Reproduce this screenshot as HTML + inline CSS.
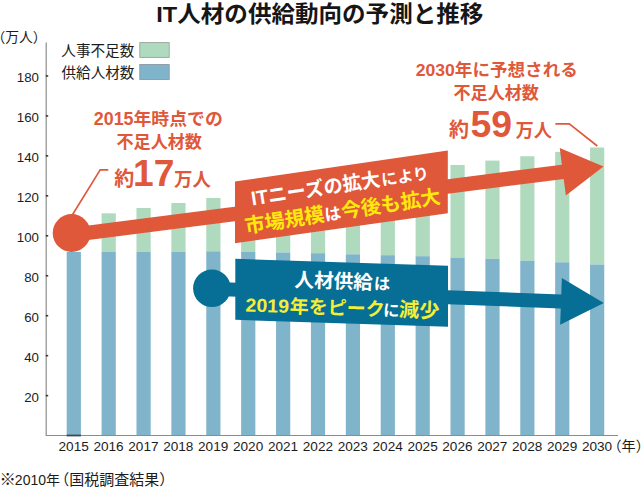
<!DOCTYPE html>
<html lang="ja"><head><meta charset="utf-8"><title>IT人材の供給動向の予測と推移</title>
<style>html,body{margin:0;padding:0;background:#fff;font-family:"Liberation Sans",sans-serif}svg{display:block}.sr{position:absolute;left:0;top:0;width:1px;height:1px;margin:-1px;overflow:hidden;clip-path:inset(50%);white-space:nowrap;color:transparent;font-size:1px}svg text{font-family:"Liberation Sans","Noto Sans CJK JP",sans-serif}</style>
</head><body>
<svg width="641" height="488" viewBox="0 0 641 488" role="img" aria-label="IT人材の供給動向の予測と推移">
<rect width="641" height="488" fill="#fff"/>
<rect x="66.70" y="252.00" width="14.2" height="183.50" fill="#80b4cb"/>
<rect x="101.59" y="213.30" width="14.2" height="38.70" fill="#afdabd"/>
<rect x="101.59" y="252.00" width="14.2" height="183.50" fill="#80b4cb"/>
<rect x="136.48" y="208.00" width="14.2" height="44.00" fill="#afdabd"/>
<rect x="136.48" y="252.00" width="14.2" height="183.50" fill="#80b4cb"/>
<rect x="171.37" y="203.00" width="14.2" height="48.80" fill="#afdabd"/>
<rect x="171.37" y="251.80" width="14.2" height="183.70" fill="#80b4cb"/>
<rect x="206.26" y="198.00" width="14.2" height="53.30" fill="#afdabd"/>
<rect x="206.26" y="251.30" width="14.2" height="184.20" fill="#80b4cb"/>
<rect x="241.15" y="193.29" width="14.2" height="58.61" fill="#afdabd"/>
<rect x="241.15" y="251.90" width="14.2" height="183.60" fill="#80b4cb"/>
<rect x="276.04" y="188.57" width="14.2" height="63.93" fill="#afdabd"/>
<rect x="276.04" y="252.50" width="14.2" height="183.00" fill="#80b4cb"/>
<rect x="310.93" y="183.86" width="14.2" height="69.34" fill="#afdabd"/>
<rect x="310.93" y="253.20" width="14.2" height="182.30" fill="#80b4cb"/>
<rect x="345.82" y="179.14" width="14.2" height="75.16" fill="#afdabd"/>
<rect x="345.82" y="254.30" width="14.2" height="181.20" fill="#80b4cb"/>
<rect x="380.71" y="174.43" width="14.2" height="80.77" fill="#afdabd"/>
<rect x="380.71" y="255.20" width="14.2" height="180.30" fill="#80b4cb"/>
<rect x="415.60" y="169.71" width="14.2" height="86.49" fill="#afdabd"/>
<rect x="415.60" y="256.20" width="14.2" height="179.30" fill="#80b4cb"/>
<rect x="450.49" y="165.00" width="14.2" height="92.60" fill="#afdabd"/>
<rect x="450.49" y="257.60" width="14.2" height="177.90" fill="#80b4cb"/>
<rect x="485.38" y="160.60" width="14.2" height="98.20" fill="#afdabd"/>
<rect x="485.38" y="258.80" width="14.2" height="176.70" fill="#80b4cb"/>
<rect x="520.27" y="156.25" width="14.2" height="104.45" fill="#afdabd"/>
<rect x="520.27" y="260.70" width="14.2" height="174.80" fill="#80b4cb"/>
<rect x="555.16" y="151.90" width="14.2" height="110.40" fill="#afdabd"/>
<rect x="555.16" y="262.30" width="14.2" height="173.20" fill="#80b4cb"/>
<rect x="590.05" y="147.50" width="14.2" height="117.00" fill="#afdabd"/>
<rect x="590.05" y="264.50" width="14.2" height="171.00" fill="#80b4cb"/>
<path d="M46.2 42.6V435.5H618" fill="none" stroke="#8c8c8c" stroke-width="1.2"/>
<rect x="45.800000000000004" y="394.84" width="2.4" height="1.6" fill="#3a3a3a"/>
<rect x="45.800000000000004" y="354.88" width="2.4" height="1.6" fill="#3a3a3a"/>
<rect x="45.800000000000004" y="314.92" width="2.4" height="1.6" fill="#3a3a3a"/>
<rect x="45.800000000000004" y="274.96" width="2.4" height="1.6" fill="#3a3a3a"/>
<rect x="45.800000000000004" y="235.00" width="2.4" height="1.6" fill="#3a3a3a"/>
<rect x="45.800000000000004" y="195.04" width="2.4" height="1.6" fill="#3a3a3a"/>
<rect x="45.800000000000004" y="155.08" width="2.4" height="1.6" fill="#3a3a3a"/>
<rect x="45.800000000000004" y="115.12" width="2.4" height="1.6" fill="#3a3a3a"/>
<rect x="45.800000000000004" y="75.16" width="2.4" height="1.6" fill="#3a3a3a"/>
<rect x="66.7" y="434.6" width="14.2" height="1.8" fill="#3a4a52"/>
<g font-size="13.3" fill="#1c1c1c" text-anchor="end">
<text x="39" y="401.74">20</text>
<text x="39" y="361.78">40</text>
<text x="39" y="321.82">60</text>
<text x="39" y="281.86">80</text>
<text x="39" y="241.90">100</text>
<text x="39" y="201.94">120</text>
<text x="39" y="161.98">140</text>
<text x="39" y="122.02">160</text>
<text x="39" y="82.06">180</text>
</g>
<g font-size="13.6" fill="#1c1c1c" text-anchor="middle">
<text x="73.7" y="450.8">2015</text>
<text x="108.5" y="450.8">2016</text>
<text x="143.4" y="450.8">2017</text>
<text x="178.3" y="450.8">2018</text>
<text x="213.2" y="450.8">2019</text>
<text x="248.1" y="450.8">2020</text>
<text x="283.0" y="450.8">2021</text>
<text x="317.9" y="450.8">2022</text>
<text x="352.8" y="450.8">2023</text>
<text x="387.7" y="450.8">2024</text>
<text x="422.6" y="450.8">2025</text>
<text x="457.4" y="450.8">2026</text>
<text x="492.3" y="450.8">2027</text>
<text x="527.2" y="450.8">2028</text>
<text x="562.1" y="450.8">2029</text>
<text x="597.0" y="450.8">2030</text>
</g>
<text x="607.5" y="451" font-size="14.1" fill="#1c1c1c">（年）</text>
<text x="-8.55" y="41.8" font-size="13.8" fill="#1c1c1c">（万人）</text>
<text x="-0.6" y="485.3" font-size="16.4" fill="#1c1c1c">※</text>
<text x="14.87" y="484.7" font-size="14" fill="#1c1c1c">2010年</text>
<text x="54.17" y="484.9" font-size="15" fill="#1c1c1c">（国税調査結果）</text>
<text x="156.33" y="21.8" font-size="22.8" font-weight="bold" fill="#161616" textLength="327" lengthAdjust="spacingAndGlyphs">IT人材の供給動向の予測と推移</text>
<text x="61.29" y="55.9" font-size="14.6" fill="#1c1c1c">人事不足数</text>
<text x="61.44" y="77.8" font-size="14.6" fill="#1c1c1c">供給人材数</text>
<rect x="139.8" y="42.6" width="29.4" height="14.8" fill="#afdabd" stroke="#98a59e" stroke-width="0.9"/>
<rect x="139.8" y="64.5" width="29.4" height="15" fill="#80b4cb" stroke="#8c99a2" stroke-width="0.9"/>
<path fill="#df583a" d="M71.08 227.85L561.88 164.68L559.75 148.11L603.50 166.57L565.85 195.52L563.72 178.94L72.92 242.11Z"/>
<circle cx="71.6" cy="233" r="18.9" fill="#df583a"/>
<path fill="#df583a" d="M235 181.6L447.8 150.4V213.2L235 243.2Z"/>
<path d="M72.3 215L100.2 169.9H108.3" fill="none" stroke="#df583a" stroke-width="1.6"/>
<path d="M555.4 123.9H569.3L597.3 146" fill="none" stroke="#df583a" stroke-width="1.6"/>
<path fill="#076f95" d="M212.25 281.81L561.25 294.44L561.85 278.05L603.80 302.99L560.15 324.82L560.75 308.43L211.75 295.80Z"/>
<circle cx="211.9" cy="288.3" r="18.8" fill="#076f95"/>
<path fill="#076f95" d="M235.3 258.8L448 265.8V326.8L235.3 319.8Z"/>
<g fill="#df583a" font-weight="bold">
<text x="93.79" y="125" font-size="17.5" textLength="129" lengthAdjust="spacingAndGlyphs">2015年時点での</text>
<text x="116.5" y="147.6" font-size="17.1">不足人材数</text>
<text x="114.18" y="186" font-size="20">約</text>
<text x="133" y="186" font-size="37.2">17</text>
<text x="174.05" y="186.1" font-size="18.4">万人</text>
<text x="415.79" y="76.2" font-size="17.3" textLength="162" lengthAdjust="spacingAndGlyphs">2030年に予想される</text>
<text x="453.5" y="98.6" font-size="17.1">不足人材数</text>
<text x="449.08" y="136.7" font-size="20">約</text>
<text x="470.5" y="136.8" font-size="37.4">59</text>
<text x="515.55" y="137.2" font-size="18.2">万人</text>
</g>
<g transform="translate(254.00 205.30) rotate(-8.699) translate(-1.80 0)" font-weight="bold">
<text x="0" y="0" font-size="19.8" fill="#fff" textLength="130.5" lengthAdjust="spacingAndGlyphs">ITニーズの拡大</text>
<text x="131.61" y="0" font-size="16" fill="#fff">により</text>
</g>
<g transform="translate(246.80 233.10) rotate(-8.699) translate(-0.86 0)" font-weight="bold">
<text x="0" y="0" font-size="20.1" fill="#ffe80c">市場規模</text>
<text x="80.6" y="0" font-size="16.5" fill="#fff">は</text>
<text x="97.3" y="0" font-size="20.1" fill="#ffe80c">今後も拡大</text>
</g>
<g transform="translate(294.80 286.70) rotate(1.896) translate(-0.43 0)" font-weight="bold">
<text x="0" y="0" font-size="19.6" fill="#fff">人材供給</text>
<text x="79.45" y="0" font-size="16.2" fill="#fff">は</text>
</g>
<g transform="translate(246.00 311.50) rotate(1.896) translate(-0.66 0)" font-weight="bold">
<text x="0" y="0" font-size="18.8" fill="#f6ee35" textLength="43.5" lengthAdjust="spacingAndGlyphs">2019</text>
<text x="44.27" y="0" font-size="19" fill="#f6ee35">年をピーク</text>
<text x="137.77" y="0" font-size="16.3" fill="#fff">に</text>
<text x="153.57" y="0" font-size="20.2" fill="#f6ee35">減少</text>
</g>
</svg>
<div class="sr">
<h1>IT人材の供給動向の予測と推移</h1>
<p>(万人) 人事不足数 供給人材数</p>
<p>2015年時点での不足人材数 約17万人</p>
<p>2030年に予想される不足人材数 約59万人</p>
<p>ITニーズの拡大により市場規模は今後も拡大</p>
<p>人材供給は2019年をピークに減少</p>
<p>180 160 140 120 100 80 60 40 20</p>
<p>2015 2016 2017 2018 2019 2020 2021 2022 2023 2024 2025 2026 2027 2028 2029 2030 (年)</p>
<p>※2010年(国税調査結果)</p>
</div>
</body></html>
